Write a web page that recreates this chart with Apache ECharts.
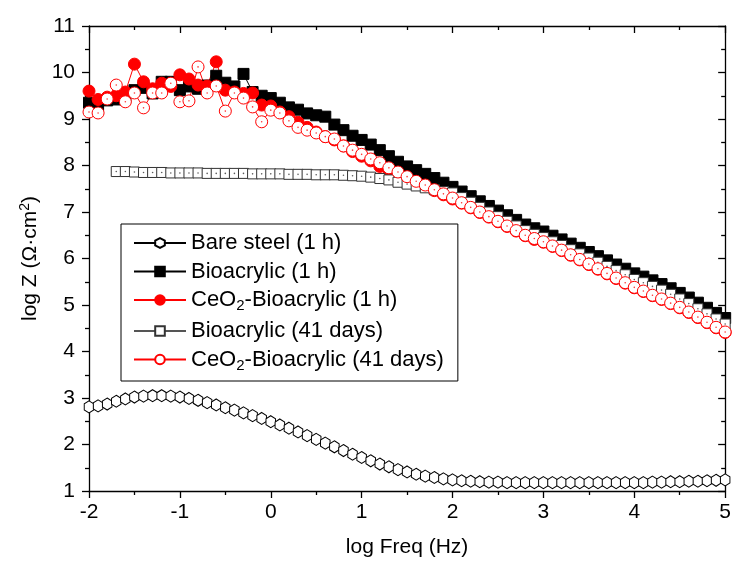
<!DOCTYPE html>
<html>
<head>
<meta charset="utf-8">
<script src="https://cdn.jsdelivr.net/npm/echarts@6/dist/echarts.min.js"></script>
<style>html,body{margin:0;padding:0;background:#fff}#c{width:734px;height:572px}</style>
</head>
<body>
<div id="c"></div>
<script>
var logFreq = [-2.0,-1.9,-1.8,-1.7,-1.6,-1.5,-1.4,-1.3,-1.2,-1.1,-1.0,-0.9,-0.8,-0.7,-0.6,-0.5,-0.4,-0.3,-0.2,-0.1,
 0.0,0.1,0.2,0.3,0.4,0.5,0.6,0.7,0.8,0.9,1.0,1.1,1.2,1.3,1.4,1.5,1.6,1.7,1.8,1.9,
 2.0,2.1,2.2,2.3,2.4,2.5,2.6,2.7,2.8,2.9,3.0,3.1,3.2,3.3,3.4,3.5,3.6,3.7,3.8,3.9,
 4.0,4.1,4.2,4.3,4.4,4.5,4.6,4.7,4.8,4.9,5.0];

var bareSteel1h = [2.81,2.83,2.87,2.93,2.98,3.02,3.04,3.05,3.05,3.04,3.02,2.99,2.95,2.90,2.85,2.79,2.74,2.68,2.62,2.56,
 2.49,2.42,2.35,2.27,2.19,2.11,2.03,1.95,1.87,1.79,1.72,1.65,1.58,1.52,1.46,1.41,1.36,1.32,1.29,1.26,
 1.24,1.22,1.21,1.20,1.19,1.19,1.18,1.18,1.18,1.18,1.18,1.18,1.18,1.18,1.18,1.18,1.18,1.18,1.18,1.18,
 1.18,1.18,1.19,1.19,1.20,1.20,1.21,1.21,1.22,1.23,1.24];

var bioacrylic1h = [9.35,9.30,9.40,9.42,9.48,9.62,9.67,9.55,9.80,9.80,9.62,9.70,9.65,9.72,9.93,9.78,9.70,9.97,9.58,9.50,
 9.45,9.35,9.25,9.20,9.12,9.08,9.05,8.88,8.76,8.64,8.55,8.45,8.33,8.20,8.08,7.98,7.90,7.82,7.73,7.63,
 7.54,7.44,7.34,7.23,7.13,7.03,6.93,6.83,6.73,6.65,6.58,6.49,6.41,6.32,6.23,6.14,6.05,5.96,5.87,5.78,
 5.68,5.61,5.53,5.45,5.36,5.26,5.16,5.05,4.94,4.83,4.72];

var ceo2Bioacrylic1h = [9.60,9.42,9.47,9.50,9.58,10.18,9.80,9.65,9.77,9.70,9.95,9.86,9.73,9.71,10.23,9.62,9.58,9.55,9.56,9.30,
 9.28,9.15,9.05,8.93,8.82,8.72,8.62,8.55,8.42,8.30,8.20,8.10,7.98,7.90,7.83,7.72,7.63,7.56,7.46,7.37,
 7.28,7.19,7.09,6.99,6.89,6.79,6.69,6.59,6.49,6.41,6.35,6.26,6.17,6.07,5.97,5.87,5.77,5.67,5.57,5.47,
 5.37,5.29,5.20,5.12,5.03,4.94,4.84,4.73,4.62,4.51,4.41];

var bioacrylic41d = [null,null,null,7.87,7.87,7.86,7.85,7.85,7.85,7.84,7.84,7.84,7.84,7.83,7.83,7.83,7.83,7.83,7.82,7.82,
 7.82,7.82,7.81,7.81,7.81,7.80,7.80,7.80,7.79,7.78,7.77,7.75,7.72,7.69,7.64,7.60,7.56,7.52,7.48,7.44,
 7.41,7.31,7.21,7.10,7.00,6.90,6.80,6.70,6.60,6.52,6.45,6.36,6.28,6.19,6.10,6.01,5.92,5.83,5.74,5.65,
 5.55,5.48,5.40,5.32,5.23,5.13,5.03,4.92,4.81,4.70,4.59];

var ceo2Bioacrylic41d = [9.15,9.13,9.43,9.73,9.37,9.56,9.24,9.56,9.56,9.77,9.37,9.39,10.12,9.56,9.71,9.17,9.56,9.45,9.26,8.94,
 9.19,9.13,8.96,8.82,8.76,8.70,8.62,8.57,8.42,8.33,8.24,8.14,8.06,7.95,7.86,7.76,7.66,7.58,7.48,7.39,
 7.30,7.20,7.10,7.00,6.90,6.80,6.70,6.60,6.50,6.43,6.36,6.27,6.18,6.08,5.98,5.88,5.78,5.68,5.58,5.48,
 5.38,5.30,5.21,5.13,5.04,4.95,4.85,4.74,4.63,4.52,4.42];

var seriesNames = ['Bare steel (1 h)','Bioacrylic (1 h)','CeO2-Bioacrylic (1 h)','Bioacrylic (41 days)','CeO2-Bioacrylic (41 days)'];

function pairs(ys){ var out=[]; for(var i=0;i<logFreq.length;i++){ if(ys[i]!=null) out.push([logFreq[i], ys[i]]); } return out; }

var FONT = 'Liberation Sans, Arial, sans-serif';
var hex = 'path://M0,-10L8.66,-5L8.66,5L0,10L-8.66,5L-8.66,-5Z';

function lineSeries(name, ys, symbol, size, fill, stroke, lineColor){
  return {
    name: name, type: 'line', data: pairs(ys), symbol: symbol, symbolSize: size, showAllSymbol: true,
    symbolKeepAspect: true,
    lineStyle: {color: lineColor, width: 1},
    itemStyle: {color: fill, borderColor: stroke, borderWidth: 1},
    emphasis: {disabled: true}, animation: false
  };
}
function dotSeries(ys, color){
  return { type: 'scatter', data: pairs(ys), symbol: 'circle', symbolSize: 1.6,
    itemStyle: {color: color}, silent: true, animation: false, z: 3 };
}

var chart = echarts.init(document.getElementById('c'), null, {renderer: 'canvas'});
var axisLine = {show: true, onZero: false, lineStyle: {color: '#000', width: 1.3}};
chart.setOption({
  backgroundColor: '#fff',
  textStyle: {fontFamily: FONT},
  grid: {left: 89, right: 8, top: 26, bottom: 81, containLabel: false},
  legend: {
    orient: 'vertical', left: 121, top: 224,
    data: seriesNames,
    backgroundColor: '#fff',
    borderColor: '#000', borderWidth: 1,
    padding: [8, 14, 8, 12],
    itemWidth: 52, itemHeight: 12, itemGap: 6.5,
    selectedMode: false,
    formatter: function(n){
      if (n.indexOf('CeO2') === 0) return '{t|CeO}{s|2}{t|' + n.substring(4) + '}';
      return '{t|' + n + '}';
    },
    textStyle: {
      color: '#000', fontSize: 22, fontFamily: FONT,
      rich: {
        t: {fontSize: 22, fontFamily: FONT, color: '#000'},
        s: {fontSize: 15, fontFamily: FONT, color: '#000', verticalAlign: 'bottom', padding: [12, 0, 0, 0]}
      }
    }
  },
  xAxis: [{
    type: 'value', min: -2, max: 5, interval: 1, position: 'bottom',
    axisLine: axisLine,
    axisTick: {show: true, inside: false, length: 7, lineStyle: {color: '#000', width: 1.3}},
    minorTick: {show: true, splitNumber: 2, length: 4, lineStyle: {color: '#000', width: 1.3}},
    splitLine: {show: false},
    axisLabel: {color: '#000', fontSize: 21, fontFamily: FONT, margin: 11},
    name: 'log Freq (Hz)', nameLocation: 'middle', nameGap: 46,
    nameTextStyle: {color: '#000', fontSize: 21, fontFamily: FONT}
  }, {
    type: 'value', min: -2, max: 5, interval: 1, position: 'top',
    axisLine: axisLine,
    axisTick: {show: true, inside: true, length: 7, lineStyle: {color: '#000', width: 1.3}},
    minorTick: {show: true, splitNumber: 2, length: 4, lineStyle: {color: '#000', width: 1.3}},
    splitLine: {show: false}, axisLabel: {show: false}
  }],
  yAxis: [{
    type: 'value', min: 1, max: 11, interval: 1, position: 'left',
    axisLine: axisLine,
    axisTick: {show: true, inside: false, length: 7, lineStyle: {color: '#000', width: 1.3}},
    minorTick: {show: true, splitNumber: 2, length: 4, lineStyle: {color: '#000', width: 1.3}},
    splitLine: {show: false},
    axisLabel: {color: '#000', fontSize: 21, fontFamily: FONT, margin: 14},
    name: '{t|log Z (Ω·cm}{s|2}{t|)}', nameLocation: 'middle', nameGap: 47, nameRotate: 90,
    nameTextStyle: {color: '#000', fontSize: 21, fontFamily: FONT,
      rich: {t: {fontSize: 21, fontFamily: FONT, color: '#000'},
             s: {fontSize: 14, fontFamily: FONT, color: '#000', verticalAlign: 'top', padding: [0, 0, 10, 0]}}}
  }, {
    type: 'value', min: 1, max: 11, interval: 1, position: 'right',
    axisLine: axisLine,
    axisTick: {show: true, inside: true, length: 7, lineStyle: {color: '#000', width: 1.3}},
    minorTick: {show: true, splitNumber: 2, length: 4, lineStyle: {color: '#000', width: 1.3}},
    splitLine: {show: false}, axisLabel: {show: false}
  }],
  series: [
    lineSeries(seriesNames[0], bareSteel1h, hex, [11, 12], '#fff', '#000', '#000'),
    lineSeries(seriesNames[1], bioacrylic1h, 'rect', 11, '#000', '#000', '#000'),
    lineSeries(seriesNames[2], ceo2Bioacrylic1h, 'circle', 12, '#ff0000', '#ff0000', '#ff0000'),
    lineSeries(seriesNames[3], bioacrylic41d, 'rect', 10, '#fff', '#333', '#555'),
    dotSeries(bioacrylic41d, '#333'),
    lineSeries(seriesNames[4], ceo2Bioacrylic41d, 'circle', 12, '#fff', '#ff0000', '#ff0000'),
    dotSeries(ceo2Bioacrylic41d, '#ff0000')
  ]
});
</script>
</body>
</html>
